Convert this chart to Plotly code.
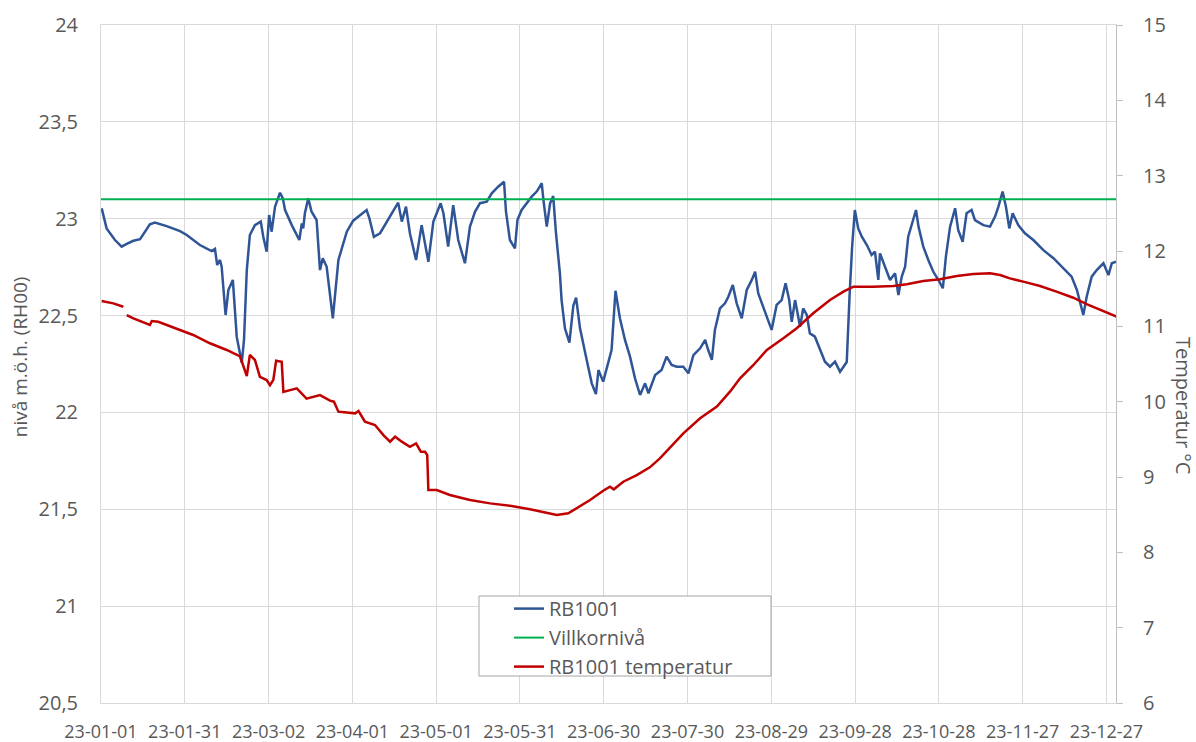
import pandas as pd
import plotly.graph_objects as go

# Groundwater level RB1001 (m ö.h., RH00): day of year 2023 (from 1 Jan) and level
level_day = [
    0.25, 2.0, 5.0, 7.4, 9.2, 11.6, 14.0, 17.5, 19.3, 23.5, 28.3, 30.7, 35.4, 39.6,
    40.8, 41.6, 42.6, 43.2, 44.6, 45.6, 47.2, 48.0, 48.6, 50.4, 51.2, 52.2, 53.3,
    55.1, 57.2, 58.1, 59.3, 60.2, 61.1, 62.3, 64.1, 65.1, 65.9, 68.3, 71.0, 71.9,
    72.4, 73.0, 74.2, 75.4, 77.2, 78.4, 79.4, 80.8, 83.0, 85.0, 88.0, 90.3, 92.7,
    95.1, 96.1, 97.7, 99.9, 102.3, 106.4, 107.7, 109.2, 110.6, 112.8, 114.8, 117.2,
    119.0, 120.2, 121.6, 122.6, 124.3, 126.1, 127.9, 130.3, 132.1, 133.9, 135.7,
    138.1, 139.9, 142.2, 144.3, 145.0, 146.4, 148.2, 149.1, 150.6, 152.4, 154.2,
    156.0, 157.8, 158.4, 159.6, 160.8, 161.9, 162.9, 164.3, 164.9, 166.1, 167.7,
    169.1, 170.1, 171.5, 173.9, 175.7, 177.2, 178.1, 179.8, 181.3, 182.8, 184.2,
    185.8, 187.6, 189.4, 191.2, 193.0, 194.8, 196.0, 198.4, 200.7, 202.5, 204.3,
    206.1, 208.5, 210.3, 212.1, 214.5, 216.3, 217.4, 218.7, 219.8, 221.6, 223.4,
    224.6, 226.2, 227.6, 229.4, 231.2, 233.0, 234.2, 235.3, 237.1, 238.9, 240.1,
    241.9, 243.7, 245.1, 246.4, 247.3, 248.5, 250.3, 251.4, 252.7, 253.8, 255.6,
    257.4, 259.2, 261.0, 262.8, 264.6, 266.4, 267.0, 268.0, 268.9, 269.9, 271.1,
    272.4, 274.2, 275.9, 277.1, 278.3, 278.9, 280.7, 282.5, 284.3, 285.5, 286.7,
    287.9, 289.0, 290.3, 291.8, 292.7, 294.4, 296.2, 298.0, 299.8, 301.4, 302.5,
    304.0, 305.8, 306.9, 308.5, 309.9, 311.7, 312.9, 315.9, 318.3, 320.1, 321.3,
    322.8, 324.0, 325.2, 326.4, 328.4, 330.8, 333.8, 337.4, 341.0, 344.5, 347.5,
    349.4, 351.1, 351.7, 352.9, 354.7, 356.5, 358.9, 360.7, 361.9, 363.4,
]
level_value = [
    23.054, 22.95, 22.89, 22.856, 22.87, 22.886, 22.894, 22.971, 22.98, 22.962,
    22.936, 22.916, 22.864, 22.833, 22.844, 22.761, 22.787, 22.752, 22.503, 22.632,
    22.684, 22.529, 22.39, 22.257, 22.374, 22.735, 22.916, 22.967, 22.985, 22.907,
    22.83, 23.019, 22.933, 23.062, 23.134, 23.105, 23.045, 22.967, 22.89, 22.976,
    22.95, 23.028, 23.105, 23.036, 22.993, 22.735, 22.796, 22.752, 22.486, 22.787,
    22.933, 22.99, 23.019, 23.045, 23.002, 22.907, 22.925, 22.985, 23.083, 22.985,
    23.062, 22.925, 22.787, 22.967, 22.778, 22.985, 23.028, 23.08, 23.028, 22.856,
    23.07, 22.89, 22.77, 22.959, 23.036, 23.08, 23.088, 23.131, 23.165, 23.191,
    23.036, 22.89, 22.847, 22.993, 23.045, 23.08, 23.114, 23.14, 23.183, 23.097,
    22.959, 23.08, 23.117, 22.925, 22.718, 22.58, 22.434, 22.36, 22.55, 22.593,
    22.434, 22.271, 22.15, 22.095, 22.219, 22.159, 22.236, 22.322, 22.628, 22.485,
    22.374, 22.288, 22.176, 22.09, 22.15, 22.099, 22.193, 22.219, 22.288, 22.245,
    22.236, 22.236, 22.202, 22.296, 22.331, 22.374, 22.322, 22.271, 22.426, 22.537,
    22.563, 22.597, 22.658, 22.563, 22.486, 22.632, 22.684, 22.726, 22.615, 22.546,
    22.477, 22.426, 22.555, 22.58, 22.667, 22.58, 22.468, 22.58, 22.442, 22.537,
    22.503, 22.408, 22.391, 22.322, 22.262, 22.236, 22.262, 22.21, 22.245, 22.26,
    22.6, 22.85, 23.045, 22.95, 22.907, 22.864, 22.813, 22.83, 22.684, 22.821,
    22.752, 22.684, 22.718, 22.606, 22.701, 22.752, 22.907, 22.976, 23.045, 22.959,
    22.856, 22.787, 22.726, 22.684, 22.641, 22.804, 22.959, 23.054, 22.942, 22.881,
    23.028, 23.045, 22.993, 22.967, 22.959, 23.011, 23.062, 23.14, 23.062, 22.95,
    23.028, 22.967, 22.925, 22.89, 22.838, 22.796, 22.744, 22.701, 22.632, 22.546,
    22.503, 22.597, 22.701, 22.735, 22.77, 22.709, 22.77, 22.778,
]

# Permit level (villkorsnivå), m ö.h.
villkor_day = [0.0, 363.5]
villkor_value = [23.1, 23.1]

# Groundwater temperature RB1001 (°C); None marks a short logger gap
temp_day = [
    0.25, 4.4, 8.0, 8.6, 9.2, 11.6, 17.5, 18.2, 20.5, 23.5, 29.5, 33.0, 39.0, 45.0,
    49.8, 52.2, 53.3, 55.1, 56.9, 59.3, 60.5, 61.7, 62.7, 64.7, 65.3, 70.1, 73.6,
    78.4, 82.0, 83.4, 85.0, 91.0, 92.2, 94.5, 98.1, 101.1, 103.5, 105.3, 107.7,
    110.6, 112.8, 114.5, 116.0, 116.8, 117.2, 120.2, 124.9, 132.1, 139.3, 147.0,
    153.6, 159.6, 163.2, 167.3, 170.3, 175.1, 179.8, 182.2, 183.6, 187.0, 191.8,
    196.5, 200.1, 208.5, 214.5, 220.5, 225.2, 228.8, 233.6, 238.4, 244.3, 249.1,
    255.0, 261.0, 265.8, 269.4, 276.5, 283.7, 288.5, 294.4, 300.4, 306.4, 312.3,
    318.3, 321.9, 325.4, 330.2, 336.2, 342.1, 348.1, 352.9, 358.9, 363.6,
]
temp_value = [
    11.336, 11.305, 11.26, None, 11.15, 11.106, 11.018, 11.07, 11.06, 11.018, 10.93,
    10.885, 10.775, 10.686, 10.6, 10.34, 10.62, 10.553, 10.33, 10.287, 10.22, 10.29,
    10.544, 10.53, 10.13, 10.177, 10.04, 10.088, 10.013, 10.0, 9.867, 9.845, 9.876,
    9.734, 9.69, 9.557, 9.469, 9.535, 9.469, 9.402, 9.447, 9.336, 9.336, 9.292,
    8.827, 8.827, 8.761, 8.694, 8.65, 8.615, 8.571, 8.526, 8.495, 8.518, 8.584,
    8.694, 8.818, 8.871, 8.836, 8.937, 9.026, 9.128, 9.248, 9.58, 9.779, 9.934,
    10.133, 10.31, 10.487, 10.686, 10.841, 10.974, 11.173, 11.349, 11.46, 11.526,
    11.526, 11.535, 11.558, 11.602, 11.624, 11.668, 11.695, 11.704, 11.681, 11.637,
    11.593, 11.535, 11.46, 11.38, 11.296, 11.203, 11.128,
]

series_names = ["RB1001", "Villkornivå", "RB1001 temperatur"]
level_ticks = [20.5, 21, 21.5, 22, 22.5, 23, 23.5, 24]
temp_ticks = [6, 7, 8, 9, 10, 11, 12, 13, 14, 15]

START = pd.Timestamp("2023-01-01")


def to_dates(days):
    return [START + pd.to_timedelta(d, unit="D") for d in days]


FONT = "Open Sans"
GREY_TEXT = "#595959"
GRID = "#d9d9d9"

fig = go.Figure()
fig.add_trace(go.Scatter(
    x=to_dates(level_day), y=level_value, name=series_names[0], mode="lines",
    line=dict(color="#2F5597", width=2.5), yaxis="y",
))
fig.add_trace(go.Scatter(
    x=to_dates(villkor_day), y=villkor_value, name=series_names[1], mode="lines",
    line=dict(color="#00B050", width=2), yaxis="y",
))
fig.add_trace(go.Scatter(
    x=to_dates(temp_day), y=temp_value, name=series_names[2], mode="lines",
    line=dict(color="#C00000", width=2.5), yaxis="y2", connectgaps=False,
))

# Legend frame
fig.add_shape(
    type="rect", xref="paper", yref="paper",
    x0=0.3724, x1=0.6601, y0=0.0398, y1=0.1578,
    fillcolor="white", line=dict(color="#a6a6a6", width=1), layer="above",
)

fig.update_layout(
    width=1196, height=742,
    margin=dict(l=101, r=80, t=25, b=39, autoexpand=False),
    paper_bgcolor="white", plot_bgcolor="white",
    separators=", ",
    font=dict(family=FONT, color=GREY_TEXT, size=19),
    showlegend=True,
    legend=dict(
        x=0.402, y=0.168, xanchor="left", yanchor="top",
        bgcolor="rgba(0,0,0,0)", borderwidth=0,
        font=dict(family=FONT, size=20, color=GREY_TEXT),
        tracegroupgap=0,
    ),
    xaxis=dict(
        type="date", automargin=False,
        range=[START, START + pd.to_timedelta(363.4, unit="D")],
        tick0=START, dtick=30 * 86400000, tickformat="%y-%m-%d",
        showgrid=True, gridcolor=GRID, gridwidth=1,
        showline=True, linecolor=GRID, linewidth=1, mirror=True,
        ticks="", zeroline=False,
        tickfont=dict(family=FONT, size=18, color=GREY_TEXT),
        ticklabelstandoff=12,
    ),
    yaxis=dict(
        range=[20.5, 24], tickvals=level_ticks, automargin=False,
        showgrid=True, gridcolor=GRID, gridwidth=1,
        showline=True, linecolor=GRID, linewidth=1,
        ticks="", zeroline=False,
        tickfont=dict(family=FONT, size=20, color=GREY_TEXT),
        ticklabelstandoff=18,
    ),
    yaxis2=dict(
        range=[6, 15], tickvals=temp_ticks, overlaying="y", side="right",
        automargin=False,
        showgrid=False, zeroline=False,
        showline=True, linecolor="#bfbfbf", linewidth=1,
        ticks="outside", ticklen=6, tickcolor="#bfbfbf",
        tickfont=dict(family=FONT, size=20, color=GREY_TEXT),
        ticklabelstandoff=16,
    ),
    annotations=[
        dict(text="nivå m.ö.h. (RH00)", xref="paper", yref="paper",
             x=-0.0798, y=0.51, textangle=-90, showarrow=False,
             font=dict(family=FONT, size=19, color=GREY_TEXT),
             xanchor="center", yanchor="middle"),
        dict(text="Temperatur °C", xref="paper", yref="paper",
             x=1.067, y=0.4395, textangle=90, showarrow=False,
             font=dict(family=FONT, size=20, color=GREY_TEXT),
             xanchor="center", yanchor="middle"),
    ],
)

fig.write_html("out.html")
